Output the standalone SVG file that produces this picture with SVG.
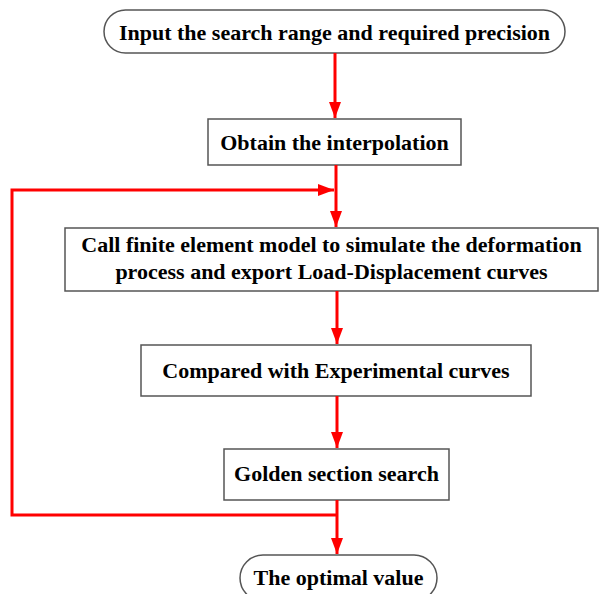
<svg xmlns="http://www.w3.org/2000/svg" width="599" height="594" viewBox="0 0 599 594">
<defs>
<marker id="ah" viewBox="0 0 16 12" refX="16" refY="6" markerWidth="16" markerHeight="12" orient="auto" markerUnits="userSpaceOnUse">
<path d="M0,0 L16,6 L0,12 Z" fill="#ff0000"/>
</marker>
</defs>
<style>
.box{fill:#ffffff;stroke:#555555;stroke-width:1.5}
.t{font-family:"Liberation Serif","Times New Roman",serif;font-weight:bold;font-size:22px;fill:#000000;text-anchor:middle}
.c{fill:none;stroke:#ff0000;stroke-width:3}
</style>
<rect width="599" height="594" fill="#ffffff"/>
<g id="n1"><rect class="box" x="104" y="10" width="461" height="43" rx="21.5"/><text class="t" x="334.5" y="40">Input the search range and required precision</text></g>
<g id="n2"><rect class="box" x="208" y="119" width="253" height="46"/><text class="t" x="334.5" y="150">Obtain the interpolation</text></g>
<g id="n3"><rect class="box" x="65" y="228" width="533" height="63"/><text class="t" x="331.5" y="252">Call finite element model to simulate the deformation</text><text class="t" x="331.5" y="279">process and export Load-Displacement curves</text></g>
<g id="n4"><rect class="box" x="141" y="345" width="390" height="51"/><text class="t" x="336" y="378">Compared with Experimental curves</text></g>
<g id="n5"><rect class="box" x="224" y="449" width="225" height="51"/><text class="t" x="336.5" y="481">Golden section search</text></g>
<g id="n6"><rect class="box" x="240" y="555" width="197" height="46" rx="23"/><text class="t" x="338.5" y="585">The optimal value</text></g>
<g id="connectors">
<line class="c" x1="335" y1="53" x2="335" y2="118" marker-end="url(#ah)"/>
<line class="c" x1="336" y1="165" x2="336" y2="227" marker-end="url(#ah)"/>
<line class="c" x1="337" y1="291" x2="337" y2="344" marker-end="url(#ah)"/>
<line class="c" x1="337" y1="396" x2="337" y2="448" marker-end="url(#ah)"/>
<line class="c" x1="337" y1="500" x2="337" y2="554" marker-end="url(#ah)"/>
<polyline class="c" points="337,515 12,515 12,190 334,190" marker-end="url(#ah)"/>
</g>
</svg>
